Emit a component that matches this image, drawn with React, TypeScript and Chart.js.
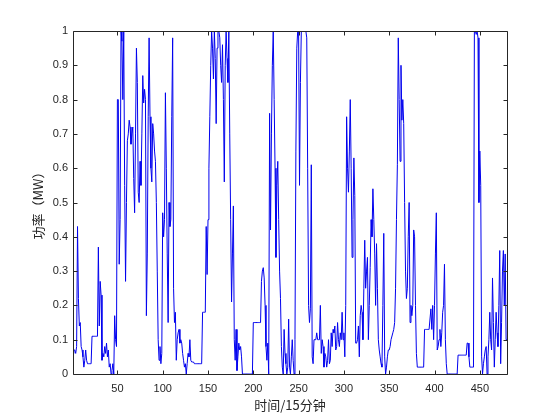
import React, { useEffect, useRef } from "react";
import { Chart, registerables } from "chart.js";

Chart.register(...registerables);

// x ticks (time index, 15-minute steps)
const X_TICKS = [50, 100, 150, 200, 250, 300, 350, 400, 450];
// y ticks (power, MW)
const Y_TICKS = [0, 0.1, 0.2, 0.3, 0.4, 0.5, 0.6, 0.7, 0.8, 0.9, 1];
const Y_TICK_LABELS = ["0", "0.1", "0.2", "0.3", "0.4", "0.5", "0.6", "0.7", "0.8", "0.9", "1"];

const X_LABEL = "时间/15分钟";
const Y_LABEL = "功率（MW）";

// power series, one value per 15-minute step (480 steps)
const POWER = [
  0.06, 0.07, 0.07, 0.06, 0.08, 0.43, 0.22, 0.14, 0.15, 0.08,
  0.07, 0.05, 0.02, 0.04, 0.07, 0.04, 0.03, 0.03, 0.03, 0.03,
  0.03, 0.11, 0.11, 0.11, 0.11, 0.11, 0.11, 0.11, 0.37, 0.14,
  0.27, 0.23, 0.04, 0.06, 0.05, 0.08, 0.06, 0.09, 0.05, 0.07,
  0.02, 0.03, 0.0, 0.01, 0.03, 0.0, 0.17, 0.1, 0.08, 0.8,
  0.8, 0.32, 0.45, 1.0, 0.97, 0.8, 1.0, 0.55, 0.27, 0.5,
  0.68, 0.7, 0.74, 0.72, 0.67, 0.7, 0.72, 0.57, 0.47, 0.7,
  0.95, 0.85, 0.53, 0.5, 0.62, 0.55, 0.7, 0.87, 0.79, 0.83,
  0.8, 0.17, 0.35, 0.75, 0.98, 0.75, 0.6, 0.56, 0.73, 0.7,
  0.65, 0.62, 0.5, 0.3, 0.1, 0.04, 0.08, 0.03, 0.06, 0.47,
  0.4, 0.45, 0.82, 0.6, 0.35, 0.15, 0.5, 0.43, 0.45, 0.75,
  0.98, 0.25, 0.15, 0.18, 0.04, 0.1, 0.12, 0.13, 0.09, 0.1,
  0.09, 0.06, 0.04, 0.02, 0.03, 0.0, 0.03, 0.06, 0.05, 0.1,
  0.04, 0.035, 0.035, 0.035, 0.03, 0.03, 0.03, 0.03, 0.03, 0.03,
  0.03, 0.03, 0.03, 0.18, 0.18, 0.18, 0.18, 0.43, 0.29, 0.45,
  0.6, 0.75, 0.9, 1.0, 0.95, 0.86, 1.0, 0.92, 0.73, 0.95,
  1.0, 1.0, 0.98, 0.9, 0.85, 0.96, 0.8, 0.56, 0.9, 1.0,
  0.92, 0.85, 1.0, 0.7, 0.45, 0.21, 0.35, 0.49, 0.1, 0.04,
  0.13, 0.01, 0.05, 0.09, 0.07, 0.08, 0.05, 0.0, 0.0, 0.0,
  0.0, 0.0, 0.0, 0.0, 0.0, 0.0, 0.0, 0.0, 0.0, 0.15,
  0.15, 0.15, 0.15, 0.15, 0.15, 0.15, 0.15, 0.15, 0.27, 0.3,
  0.31, 0.28, 0.2, 0.08, 0.04, 0.09, 0.0, 0.76, 0.42, 0.7,
  0.9, 1.0, 0.8, 0.6, 0.34, 0.55, 0.62, 0.45, 0.3, 0.22,
  0.08, 0.02, 0.0, 0.13, 0.06, 0.03, 0.0, 0.02, 0.16, 0.02,
  0.0, 0.05, 0.1, 0.04, 0.0, 0.1, 0.65, 0.95, 1.0, 1.0,
  0.55, 0.85, 1.0, 1.0, 1.0, 1.0, 1.0, 1.0, 0.98, 0.6,
  0.2, 0.15, 0.19, 0.61, 0.05, 0.03, 0.1, 0.1, 0.1, 0.12,
  0.1, 0.1, 0.1, 0.2, 0.06, 0.1, 0.08, 0.02, 0.06, 0.05,
  0.02, 0.04, 0.1, 0.03, 0.04, 0.12, 0.08, 0.13, 0.12, 0.14,
  0.07, 0.08, 0.15, 0.1, 0.08, 0.12, 0.1, 0.18, 0.1, 0.12,
  0.05, 0.2, 0.75, 0.6, 0.53, 0.65, 0.8, 0.6, 0.34, 0.45,
  0.63, 0.52, 0.09, 0.09, 0.1, 0.14, 0.05, 0.17, 0.2, 0.18,
  0.1, 0.25, 0.39, 0.25, 0.3, 0.34, 0.1, 0.2, 0.31, 0.45,
  0.4, 0.54, 0.45, 0.35, 0.2, 0.38, 0.25, 0.1, 0.07, 0.05,
  0.03, 0.02, 0.2, 0.41, 0.05, 0.0, 0.02, 0.05, 0.07, 0.07,
  0.08, 0.1, 0.1, 0.12, 0.13, 0.15, 0.25, 0.45, 0.61, 0.98,
  0.8, 0.62, 0.9, 0.74, 0.8, 0.73, 0.5, 0.3, 0.22, 0.25,
  0.4, 0.5, 0.15, 0.2, 0.17, 0.2, 0.42, 0.4, 0.2, 0.06,
  0.02, 0.02, 0.02, 0.02, 0.02, 0.02, 0.02, 0.02, 0.13, 0.13,
  0.13, 0.13, 0.13, 0.13, 0.13, 0.19, 0.13, 0.2, 0.1, 0.2,
  0.35, 0.47, 0.07, 0.08, 0.1, 0.13, 0.08, 0.12, 0.18, 0.2,
  0.32, 0.1, 0.03, 0.0, 0.0, 0.0, 0.0, 0.0, 0.0, 0.0,
  0.0, 0.0, 0.0, 0.0, 0.0, 0.055, 0.055, 0.055, 0.055, 0.055,
  0.055, 0.055, 0.055, 0.055, 0.055, 0.09, 0.09, 0.05, 0.02, 0.02,
  0.02, 0.02, 0.02, 1.0, 1.0, 0.99, 1.0, 0.98, 0.5, 0.65,
  0.55, 0.05, 0.0, 0.03, 0.05, 0.07, 0.08, 0.0, 0.05, 0.1,
  0.18, 0.1, 0.07, 0.28, 0.15, 0.02, 0.1, 0.18, 0.12, 0.08,
  0.2, 0.36, 0.03, 0.15, 0.3, 0.36, 0.2, 0.35, 0.1, 0.1,
];

const AXIS_COLOR = "#262626";
const LINE_COLOR = "#0000ee";

const boxPlugin = {
  id: "matlabBox",
  afterDatasetsDraw(chart: any) {
    const { ctx, chartArea, scales } = chart;
    const { left, right, top, bottom } = chartArea;
    const xs = scales.x;
    const ys = scales.y;
    const tl = 4;
    ctx.save();
    ctx.strokeStyle = AXIS_COLOR;
    ctx.lineWidth = 1;
    ctx.beginPath();
    const L = Math.round(left) + 0.5;
    const R = Math.round(right) + 0.5;
    const T = Math.round(top) + 0.5;
    const B = Math.round(bottom) + 0.5;
    ctx.moveTo(L, T);
    ctx.lineTo(R, T);
    ctx.lineTo(R, B);
    ctx.lineTo(L, B);
    ctx.closePath();
    X_TICKS.forEach((v) => {
      const px = Math.round(xs.getPixelForValue(v)) + 0.5;
      ctx.moveTo(px, B);
      ctx.lineTo(px, B - tl);
      ctx.moveTo(px, T);
      ctx.lineTo(px, T + tl);
    });
    Y_TICKS.forEach((v) => {
      const py = Math.round(ys.getPixelForValue(v)) + 0.5;
      ctx.moveTo(L, py);
      ctx.lineTo(L + tl, py);
      ctx.moveTo(R, py);
      ctx.lineTo(R - tl, py);
    });
    ctx.stroke();
    ctx.restore();
  },
};

export default function App() {
  const ref = useRef<HTMLCanvasElement | null>(null);

  useEffect(() => {
    if (!ref.current) return;
    const points = POWER.map((v, i) => ({ x: i + 1, y: v }));
    const chart = new Chart(ref.current, {
      type: "line",
      data: {
        datasets: [
          {
            data: points,
            borderColor: LINE_COLOR,
            borderWidth: 1,
            pointRadius: 0,
            tension: 0,
            fill: false,
          },
        ],
      },
      options: {
        animation: false,
        responsive: false,
        maintainAspectRatio: false,
        events: [],
        layout: { padding: { left: 0, right: 53, top: 31, bottom: 0 } },
        plugins: {
          legend: { display: false },
          tooltip: { enabled: false },
        },
        scales: {
          x: {
            type: "linear",
            min: 1,
            max: 480,
            grid: { display: false, drawTicks: false },
            border: { display: false },
            afterBuildTicks: (scale: any) => {
              scale.ticks = X_TICKS.map((v) => ({ value: v }));
            },
            afterFit: (scale: any) => {
              scale.height = 46;
            },
            ticks: {
              padding: 8,
              color: AXIS_COLOR,
              font: { family: "'Liberation Sans', Arial, sans-serif", size: 11 },
              maxRotation: 0,
              autoSkip: false,
              callback: (v: any) => String(v),
            },
            title: {
              display: true,
              text: X_LABEL,
              color: AXIS_COLOR,
              font: { family: "'Noto Sans CJK SC', sans-serif", size: 13 },
              padding: { top: 0, bottom: 7 },
            },
          },
          y: {
            type: "linear",
            min: 0,
            max: 1,
            grid: { display: false, drawTicks: false },
            border: { display: false },
            afterBuildTicks: (scale: any) => {
              scale.ticks = Y_TICKS.map((v) => ({ value: v }));
            },
            afterFit: (scale: any) => {
              scale.width = 73;
            },
            ticks: {
              padding: 5,
              color: AXIS_COLOR,
              font: { family: "'Liberation Sans', Arial, sans-serif", size: 11 },
              autoSkip: false,
              callback: (v: any) => {
                const i = Y_TICKS.findIndex((t) => Math.abs(t - Number(v)) < 1e-9);
                return i >= 0 ? Y_TICK_LABELS[i] : "";
              },
            },
            title: {
              display: true,
              text: Y_LABEL,
              color: AXIS_COLOR,
              font: { family: "'Noto Sans CJK SC', sans-serif", size: 13 },
              padding: { top: 30, bottom: 0 },
            },
          },
        },
      },
      plugins: [boxPlugin],
    });
    return () => chart.destroy();
  }, []);

  return (
    <div style={{ position: "absolute", left: 0, top: 0, width: 560, height: 420, background: "#fff" }}>
      <canvas ref={ref} width={560} height={420} style={{ width: 560, height: 420, display: "block" }} />
    </div>
  );
}
